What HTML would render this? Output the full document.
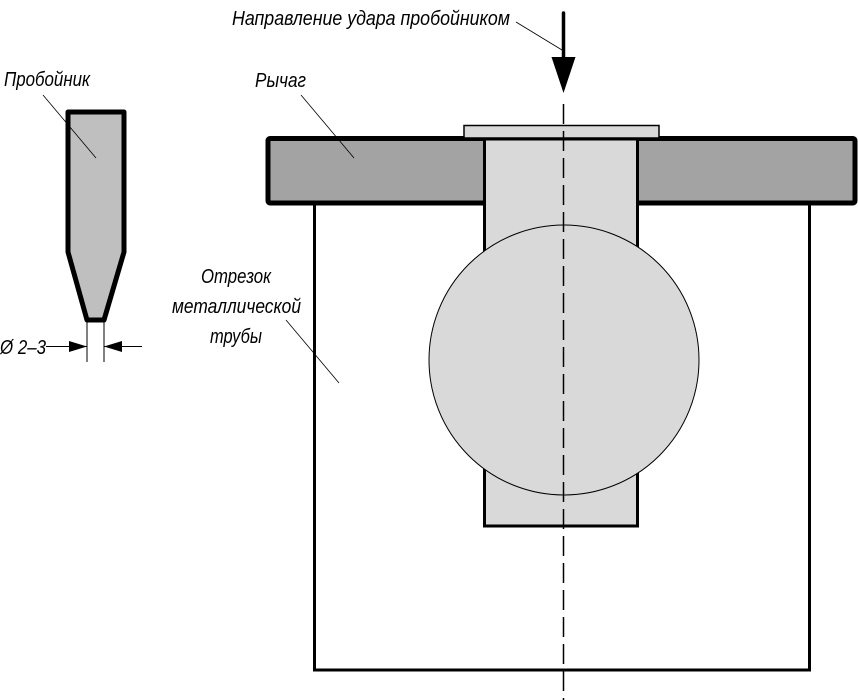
<!DOCTYPE html>
<html><head><meta charset="utf-8"><style>
html,body{margin:0;padding:0;background:#fff;}
svg{display:block}
text{font-family:"Liberation Sans","DejaVu Sans",sans-serif;font-style:italic;font-size:20px;fill:#000;}
</style></head><body>
<svg width="858" height="700" viewBox="0 0 858 700" xmlns="http://www.w3.org/2000/svg">
<rect x="314.5" y="200" width="495" height="470" fill="#fff" stroke="#000" stroke-width="3"/>
<rect x="268" y="138.5" width="587" height="64.5" rx="2" fill="#a3a3a3" stroke="#000" stroke-width="5"/>
<rect x="484.5" y="139" width="153" height="387" fill="#d9d9d9" stroke="#000" stroke-width="3"/>
<rect x="464" y="125.5" width="195" height="12.5" fill="#d9d9d9" stroke="#000" stroke-width="1.5"/>
<circle cx="564" cy="360" r="135" fill="#d9d9d9" stroke="#000" stroke-width="1"/>
<line x1="563.5" y1="104" x2="563.5" y2="700" stroke="#000" stroke-width="1.5" stroke-dasharray="20,7"/>
<line x1="563.5" y1="13" x2="563.5" y2="60" stroke="#000" stroke-width="3.5" stroke-linecap="round"/>
<polygon points="551.5,57 575.5,57 563.5,93" fill="#000"/>
<line x1="516" y1="22" x2="562" y2="50" stroke="#000" stroke-width="0.8"/>
<polygon points="68,112 124,112 124,252 104,320 87,320 68,252" fill="#bfbfbf" stroke="#000" stroke-width="5" stroke-linejoin="round"/>
<line x1="87" y1="320" x2="87" y2="362" stroke="#000" stroke-width="1"/>
<line x1="104" y1="320" x2="104" y2="362" stroke="#000" stroke-width="1"/>
<line x1="46" y1="346.5" x2="87" y2="346.5" stroke="#000" stroke-width="1"/>
<polygon points="87,346.5 69,341 69,352" fill="#000"/>
<line x1="104" y1="346.5" x2="142" y2="346.5" stroke="#000" stroke-width="1"/>
<polygon points="104,346.5 122,341 122,352" fill="#000"/>
<line x1="43" y1="95" x2="96" y2="158" stroke="#000" stroke-width="0.8"/>
<line x1="301" y1="95" x2="354" y2="158" stroke="#000" stroke-width="0.8"/>
<line x1="286" y1="320" x2="339" y2="383" stroke="#000" stroke-width="0.8"/>
<text x="232" y="25" textLength="278" lengthAdjust="spacingAndGlyphs">Направление удара пробойником</text>
<text x="255" y="87" textLength="51" lengthAdjust="spacingAndGlyphs">Рычаг</text>
<text x="4" y="86" textLength="86" lengthAdjust="spacingAndGlyphs">Пробойник</text>
<text x="201" y="283" textLength="70" lengthAdjust="spacingAndGlyphs">Отрезок</text>
<text x="172" y="313" textLength="129" lengthAdjust="spacingAndGlyphs">металлической</text>
<text x="210" y="343" textLength="52" lengthAdjust="spacingAndGlyphs">трубы</text>
<text x="0" y="354" textLength="46" lengthAdjust="spacingAndGlyphs">Ø 2–3</text>
</svg>
</body></html>
